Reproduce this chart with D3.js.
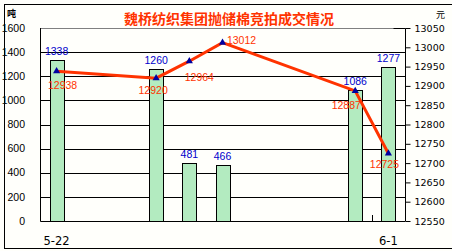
<!DOCTYPE html>
<html>
<head>
<meta charset="utf-8">
<script src="https://cdn.jsdelivr.net/npm/d3@7"></script>
<style>
  body { margin: 0; background: #fffffb; }
  svg { display: block; }
</style>
</head>
<body>
<script>
// chart data
var dates = ['5-22', '5-23', '5-24', '5-25', '5-26', '5-27', '5-28', '5-29', '5-30', '5-31', '6-1'];
var tons = [1338, null, null, 1260, 481, 466, null, null, null, 1086, 1277];
var prices = [12938, null, null, 12920, 12964, 13012, null, null, null, 12887, 12725];
var leftTicks = [0, 200, 400, 600, 800, 1000, 1200, 1400, 1600];
var rightTicks = [12550, 12600, 12650, 12700, 12750, 12800, 12850, 12900, 12950, 13000, 13050];
var title = '魏桥纺织集团抛储棉竞拍成交情况';

// where price labels sit relative to their point (dx, dy)
var priceLabelShift = [[6, 14], null, null, [-3, 12], [10, 16], [19, -2], null, null, null, [-9, 14], [-4, 11]];

var width = 452,
    height = 251,
    pLeft = 40, pRight = 405, pTop = 28, pBottom = 221;

var red = '#ff3300', blue = '#0000cc';

var svg = d3.select('body').append('svg')
    .attr('width', width)
    .attr('height', height);

// outer frame
svg.append('rect')
    .attr('x', 4.5).attr('y', 4.5)
    .attr('width', 460).attr('height', 244)
    .attr('fill', '#fffffb')
    .attr('stroke', '#000');

var x = d3.scaleBand().domain(dates).range([pLeft, pRight]);
var yL = d3.scaleLinear().domain([0, 1600]).range([pBottom, pTop]);
var yR = d3.scaleLinear().domain([12550, 13050]).range([pBottom, pTop]);

// grid lines
svg.selectAll('.grid').data(leftTicks.slice(1))
  .enter().append('line')
    .attr('x1', pLeft).attr('x2', pRight)
    .attr('y1', function(d){ return Math.round(yL(d)) + 0.5; })
    .attr('y2', function(d){ return Math.round(yL(d)) + 0.5; })
    .attr('stroke', function(d){ return d === 1600 ? '#808080' : '#000'; });

// bars
var barW = 14;
var barDates = dates.filter(function(d, i){ return tons[i] != null; });
svg.selectAll('.bar').data(barDates)
  .enter().append('rect')
    .attr('x', function(d){ return Math.round(x(d) + x.bandwidth() / 2 - barW / 2) + 0.5; })
    .attr('y', function(d){ return Math.round(yL(tons[dates.indexOf(d)])) + 0.5; })
    .attr('width', barW)
    .attr('height', function(d){ return Math.round(pBottom - yL(tons[dates.indexOf(d)])); })
    .attr('fill', '#b3ebc0')
    .attr('stroke', '#000');

// plot frame: left and bottom
svg.append('path')
    .attr('d', 'M' + (pLeft + 0.5) + ',' + pTop + 'V' + (pBottom + 0.5) + 'H' + pRight)
    .attr('fill', 'none').attr('stroke', '#000');

// category ticks every 10 categories
var tickIdx = [0, 10];
svg.selectAll('.xtick').data(tickIdx)
  .enter().append('line')
    .attr('x1', function(i){ return Math.round(x(dates[i])) + 0.5; })
    .attr('x2', function(i){ return Math.round(x(dates[i])) + 0.5; })
    .attr('y1', pBottom - 6).attr('y2', pBottom)
    .attr('stroke', '#000');

svg.selectAll('.xlab').data(tickIdx)
  .enter().append('text')
    .attr('x', function(i){ return x(dates[i]) + x.bandwidth() / 2; })
    .attr('y', 245)
    .attr('text-anchor', 'middle')
    .attr('font-family', 'DejaVu Sans')
    .attr('font-size', 11.5)
    .text(function(i){ return dates[i]; });

// left axis labels
svg.selectAll('.ylab').data(leftTicks)
  .enter().append('text')
    .attr('x', 25)
    .attr('y', function(d){ return yL(d); })
    .attr('dy', '0.35em')
    .attr('text-anchor', 'end')
    .attr('font-family', 'Liberation Sans Narrow, Liberation Sans, sans-serif')
    .attr('font-size', 10.5)
    .text(function(d){ return d; });

// right axis
var axisR = d3.axisRight(yR).tickValues(rightTicks).tickSize(5).tickPadding(4)
    .tickFormat(d3.format('d'));
var gR = svg.append('g')
    .attr('transform', 'translate(' + (pRight + 0.5) + ',0)')
    .call(axisR);
gR.select('.domain').attr('d', 'M-12,' + (pTop + 0.5) + 'H0V' + (pBottom + 0.5));
gR.selectAll('text')
    .attr('font-family', 'DejaVu Sans')
    .attr('font-size', 9.5)
    .attr('fill', '#000');

// units
svg.append('text')
    .attr('x', 7).attr('y', 17)
    .attr('font-family', 'Noto Sans CJK SC')
    .attr('font-size', 9).attr('font-weight', 'bold')
    .text('吨');
svg.append('text')
    .attr('x', 436).attr('y', 18)
    .attr('font-family', 'Noto Sans CJK SC')
    .attr('font-size', 9)
    .text('元');

// title
svg.append('text')
    .attr('x', 229).attr('y', 24)
    .attr('text-anchor', 'middle')
    .attr('font-family', 'Noto Sans CJK SC')
    .attr('font-size', 14).attr('font-weight', 'bold')
    .attr('fill', red)
    .text(title);

// bar value labels
svg.selectAll('.barlab').data(barDates)
  .enter().append('text')
    .attr('x', function(d){ return x(d) + x.bandwidth() / 2; })
    .attr('y', function(d){ return yL(tons[dates.indexOf(d)]) - 5; })
    .attr('text-anchor', 'middle')
    .attr('font-family', 'Liberation Sans Narrow, Liberation Sans, sans-serif')
    .attr('font-size', 10.5)
    .attr('fill', blue)
    .text(function(d){ return tons[dates.indexOf(d)]; });

// price line
var pts = dates.map(function(d, i){ return [d, prices[i], i]; })
    .filter(function(p){ return p[1] != null; });

var line = d3.line()
    .x(function(p){ return x(p[0]) + x.bandwidth() / 2; })
    .y(function(p){ return yR(p[1]); });

svg.append('path')
    .datum(pts)
    .attr('d', line)
    .attr('fill', 'none')
    .attr('stroke', red)
    .attr('stroke-width', 3);

svg.selectAll('.marker').data(pts)
  .enter().append('path')
    .attr('d', d3.symbol().type(d3.symbolTriangle).size(22))
    .attr('transform', function(p){
      return 'translate(' + (x(p[0]) + x.bandwidth() / 2) + ',' + yR(p[1]) + ')';
    })
    .attr('fill', '#0000a0');

svg.selectAll('.pricelab').data(pts)
  .enter().append('text')
    .attr('x', function(p){ return x(p[0]) + x.bandwidth() / 2 + priceLabelShift[p[2]][0]; })
    .attr('y', function(p){ return yR(p[1]) + priceLabelShift[p[2]][1]; })
    .attr('dy', '0.35em')
    .attr('text-anchor', 'middle')
    .attr('font-family', 'Liberation Sans Narrow, Liberation Sans, sans-serif')
    .attr('font-size', 10.5)
    .attr('fill', red)
    .text(function(p){ return p[1]; });
</script>
</body>
</html>
